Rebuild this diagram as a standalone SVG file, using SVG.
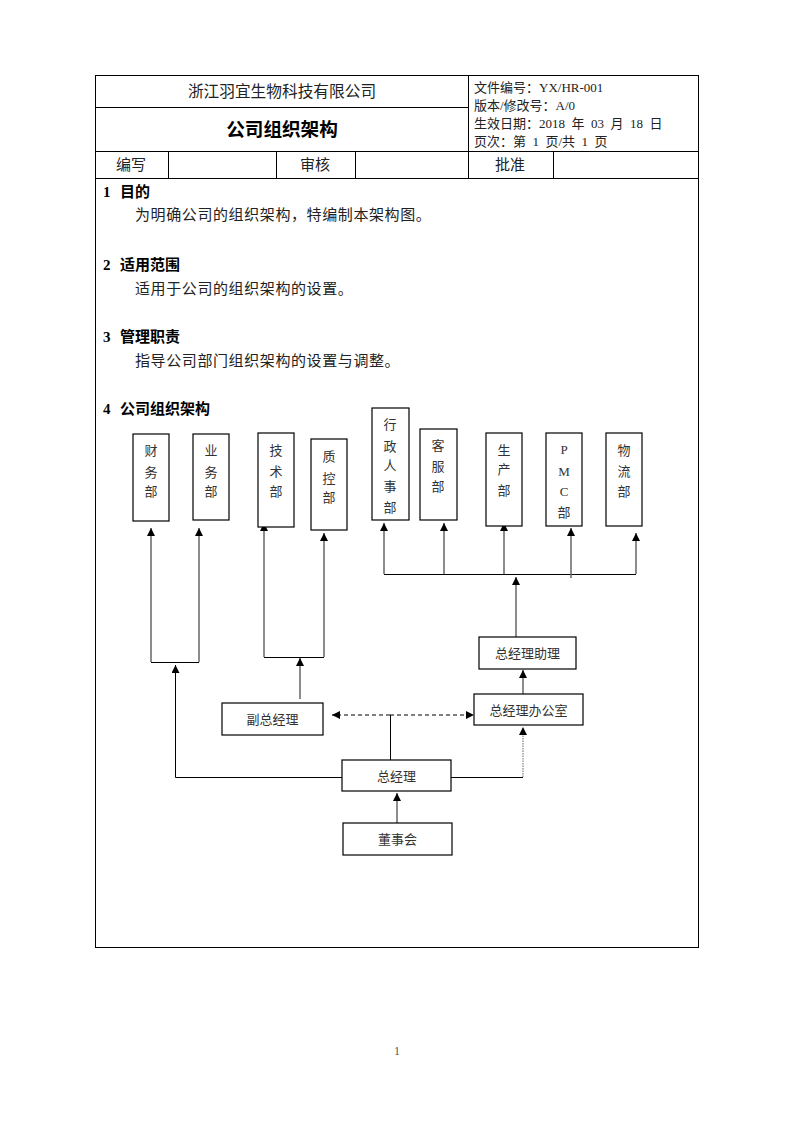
<svg xmlns="http://www.w3.org/2000/svg" width="793" height="1122" viewBox="0 0 793 1122">
<defs>
<style>
.t{font-family:"Liberation Serif","Noto Sans CJK SC",serif;fill:#222;}
.b{font-family:"Liberation Serif","Noto Sans CJK SC",serif;font-weight:bold;fill:#000;}
.box{fill:#fff;stroke:#000;stroke-width:1.2;}
.ln{fill:none;stroke:#000;stroke-width:1;}
.ar{fill:none;stroke:#666;stroke-width:1.5;}
.bx{font-family:"Liberation Serif","Noto Sans CJK SC",serif;font-size:13px;fill:#333;text-anchor:middle;}
</style>
<marker id="ah" viewBox="0 0 10 10" refX="10" refY="5" markerWidth="8" markerHeight="8" markerUnits="userSpaceOnUse" orient="auto">
<path d="M0,0 L10,5 L0,10 Z" fill="#000"/>
</marker>
</defs>
<rect width="793" height="1122" fill="#fff"/>
<g id="header">
<rect x="95.5" y="75.5" width="603" height="872" fill="none" stroke="#000" stroke-width="1"/>
<line class="ln" x1="95" y1="107.5" x2="468" y2="107.5"/>
<line class="ln" x1="468.5" y1="75" x2="468.5" y2="178"/>
<line class="ln" x1="95" y1="151.5" x2="698" y2="151.5"/>
<line class="ln" x1="95" y1="178.5" x2="698" y2="178.5"/>
<line class="ln" x1="168.5" y1="151" x2="168.5" y2="178"/>
<line class="ln" x1="276.5" y1="151" x2="276.5" y2="178"/>
<line class="ln" x1="355.5" y1="151" x2="355.5" y2="178"/>
<line class="ln" x1="553.5" y1="151" x2="553.5" y2="178"/>
<text class="t" x="282" y="97" font-size="15.7" text-anchor="middle">浙江羽宜生物科技有限公司</text>
<text class="b" x="282" y="136" font-size="18.6" text-anchor="middle">公司组织架构</text>
<text class="t" x="474" y="92" font-size="13">文件编号：YX/HR-001</text>
<text class="t" x="474" y="110" font-size="13">版本/修改号：A/0</text>
<text class="t" x="474" y="128" font-size="13">生效日期：2018&#8194;年&#8194;03&#8194;月&#8194;18&#8194;日</text>
<text class="t" x="474" y="146" font-size="13">页次：第&#8194;1&#8194;页/共&#8194;1&#8194;页</text>
<text class="t" x="131" y="170" font-size="15" text-anchor="middle">编写</text>
<text class="t" x="315" y="170" font-size="15" text-anchor="middle">审核</text>
<text class="t" x="510" y="170" font-size="15" text-anchor="middle">批准</text>
</g>
<g id="sections">
<text class="b" x="103" y="197" font-size="15">1</text><text class="b" x="120" y="197" font-size="15">目的</text>
<text class="t" x="135" y="220" font-size="15" letter-spacing="0.6">为明确公司的组织架构，特编制本架构图。</text>
<text class="b" x="103" y="270" font-size="15">2</text><text class="b" x="120" y="270" font-size="15">适用范围</text>
<text class="t" x="135" y="294" font-size="15" letter-spacing="0.6">适用于公司的组织架构的设置。</text>
<text class="b" x="103" y="342" font-size="15">3</text><text class="b" x="120" y="342" font-size="15">管理职责</text>
<text class="t" x="135" y="366" font-size="15" letter-spacing="0.6">指导公司部门组织架构的设置与调整。</text>
<text class="b" x="103" y="414" font-size="15">4</text><text class="b" x="120" y="414" font-size="15">公司组织架构</text>
</g>
<g id="connectors">
<line class="ar" x1="151" y1="662" x2="151" y2="528" marker-end="url(#ah)"/>
<line class="ar" x1="199" y1="662" x2="199" y2="528" marker-end="url(#ah)"/>
<line class="ln" x1="151" y1="662.5" x2="199" y2="662.5"/>
<line class="ar" x1="264" y1="657" x2="264" y2="523" marker-end="url(#ah)"/>
<line class="ar" x1="324" y1="657" x2="324" y2="533" marker-end="url(#ah)"/>
<line class="ln" x1="264" y1="657.5" x2="324" y2="657.5"/>
<line class="ln" x1="384" y1="574.5" x2="636" y2="574.5"/>
<line class="ar" x1="384" y1="574" x2="384" y2="523" marker-end="url(#ah)"/>
<line class="ar" x1="444" y1="574" x2="444" y2="523" marker-end="url(#ah)"/>
<line class="ar" x1="504" y1="574" x2="504" y2="523" marker-end="url(#ah)"/>
<line class="ar" x1="571" y1="578" x2="571" y2="528" marker-end="url(#ah)"/>
<line class="ar" x1="636" y1="574" x2="636" y2="533" marker-end="url(#ah)"/>
<line class="ar" x1="516" y1="637" x2="516" y2="577" marker-end="url(#ah)"/>
<line class="ar" x1="523" y1="694" x2="523" y2="670" marker-end="url(#ah)"/>
<line class="ar" x1="300" y1="699" x2="300" y2="658" marker-end="url(#ah)"/>
<polyline class="ln" points="342,777.5 175.5,777.5 175.5,672"/>
<line class="ln" x1="175.5" y1="672" x2="175.5" y2="665" marker-end="url(#ah)"/>
<line class="ln" x1="451" y1="777.5" x2="523" y2="777.5"/>
<line x1="523" y1="777" x2="523" y2="727" stroke="#666" stroke-width="1" stroke-dasharray="1.5,1" marker-end="url(#ah)"/>
<line x1="390" y1="715" x2="332" y2="715" stroke="#000" stroke-width="1.2" stroke-dasharray="4,3" marker-end="url(#ah)"/>
<line x1="390" y1="715" x2="474" y2="715" stroke="#000" stroke-width="1.2" stroke-dasharray="4,3" marker-end="url(#ah)"/>
<line class="ln" x1="390.5" y1="715" x2="390.5" y2="760"/>
<line class="ar" x1="397" y1="823" x2="397" y2="793" marker-end="url(#ah)"/>
</g>
<g id="n-caiwu"><rect class="box" x="133" y="434" width="36" height="87"/><text class="bx" x="151" y="455">财</text><text class="bx" x="151" y="477">务</text><text class="bx" x="151" y="496">部</text></g>
<g id="n-yewu"><rect class="box" x="193" y="434" width="36" height="86"/><text class="bx" x="211" y="455">业</text><text class="bx" x="211" y="477">务</text><text class="bx" x="211" y="496">部</text></g>
<g id="n-jishu"><rect class="box" x="258" y="433" width="36" height="94"/><text class="bx" x="276" y="455">技</text><text class="bx" x="276" y="476">术</text><text class="bx" x="276" y="496">部</text></g>
<g id="n-zhikong"><rect class="box" x="311" y="439" width="36" height="91"/><text class="bx" x="329" y="461">质</text><text class="bx" x="329" y="483">控</text><text class="bx" x="329" y="502">部</text></g>
<g id="n-xingzheng"><rect class="box" x="372" y="408" width="37" height="112"/><text class="bx" x="390" y="429">行</text><text class="bx" x="390" y="451">政</text><text class="bx" x="390" y="470">人</text><text class="bx" x="390" y="491">事</text><text class="bx" x="390" y="512">部</text></g>
<g id="n-kefu"><rect class="box" x="420" y="429" width="37" height="91"/><text class="bx" x="438" y="450">客</text><text class="bx" x="438" y="471">服</text><text class="bx" x="438" y="491">部</text></g>
<g id="n-shengchan"><rect class="box" x="486" y="433" width="36" height="93"/><text class="bx" x="504" y="455">生</text><text class="bx" x="504" y="474">产</text><text class="bx" x="504" y="495">部</text></g>
<g id="n-pmc"><rect class="box" x="546" y="433" width="36" height="93"/><text class="bx" x="564" y="454">P</text><text class="bx" x="564" y="476">M</text><text class="bx" x="564" y="496">C</text><text class="bx" x="564" y="517">部</text></g>
<g id="n-wuliu"><rect class="box" x="606" y="433" width="36" height="93"/><text class="bx" x="624" y="455">物</text><text class="bx" x="624" y="476">流</text><text class="bx" x="624" y="496">部</text></g>
<g id="n-zhuli"><rect class="box" x="479" y="637" width="97" height="32"/><text class="bx" x="527.5" y="658">总经理助理</text></g>
<g id="n-fuzong"><rect class="box" x="222" y="703" width="101" height="32"/><text class="bx" x="272.5" y="724">副总经理</text></g>
<g id="n-bangongshi"><rect class="box" x="474" y="694" width="109" height="31"/><text class="bx" x="528.5" y="715">总经理办公室</text></g>
<g id="n-zongjingli"><rect class="box" x="342" y="760" width="109" height="31"/><text class="bx" x="396.5" y="781">总经理</text></g>
<g id="n-dongshihui"><rect class="box" x="343" y="823" width="109" height="32"/><text class="bx" x="397.5" y="844">董事会</text></g>
<text x="397" y="1055" font-family="Liberation Serif, serif" font-size="12" fill="#555" text-anchor="middle">1</text>
</svg>
